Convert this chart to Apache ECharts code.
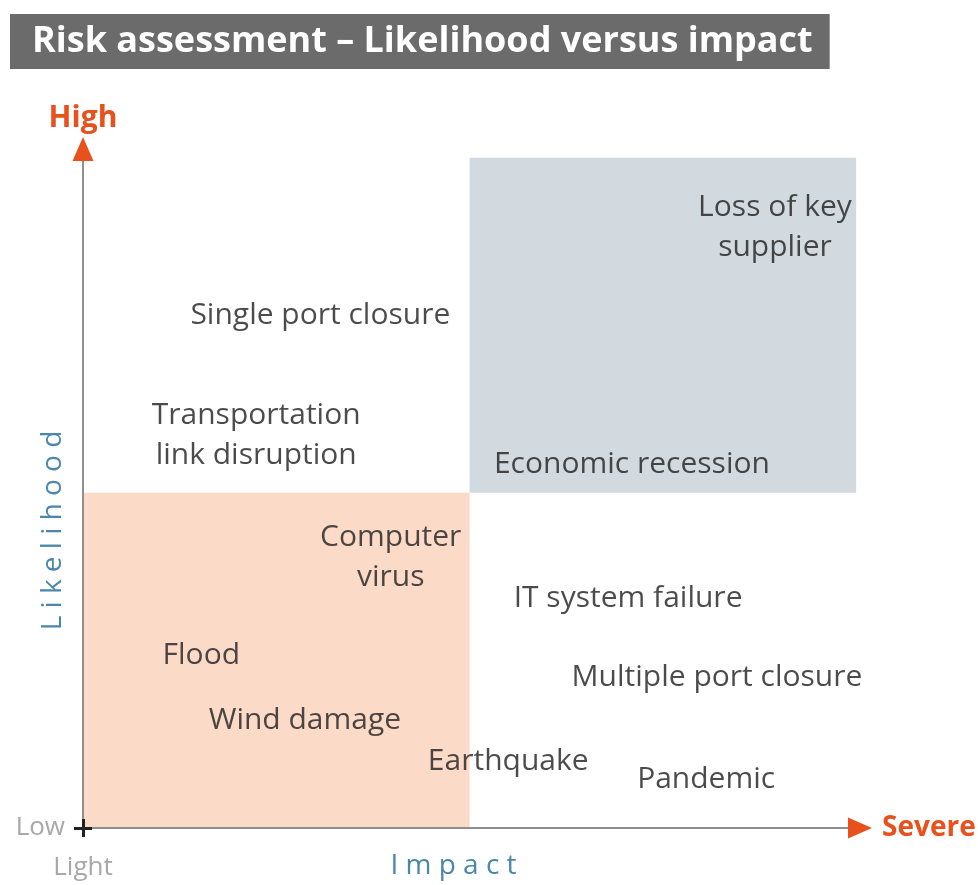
<!DOCTYPE html>
<html>
<head>
<meta charset="utf-8">
<title>Risk assessment</title>
<script src="https://cdn.jsdelivr.net/npm/echarts@6/dist/echarts.min.js"></script>
<style>
  html, body { margin: 0; padding: 0; background: #fff; }
  #chart { width: 978px; height: 885px; }
</style>
</head>
<body>
<div id="chart"></div>
<script>
// risk items: impact (x) and likelihood (y) on a 0-10 scale
const risks = [
  'Loss of key\nsupplier', 'Single port closure', 'Transportation\nlink disruption',
  'Economic recession', 'Computer\nvirus', 'IT system failure', 'Flood',
  'Multiple port closure', 'Wind damage', 'Earthquake', 'Pandemic'
];
const impact = [8.95, 3.07, 2.24, 7.10, 3.98, 7.05, 1.53, 8.20, 2.87, 5.50, 8.06];
const likelihood = [8.96, 7.64, 5.85, 5.43, 4.03, 3.42, 2.57, 2.24, 1.61, 0.99, 0.73];

// quadrant boxes [x0, y0, x1, y1]
const lowBox = [0, 0, 5, 5];
const highBox = [5, 5, 10, 10];

const FONT = "'Open Sans', sans-serif";
const ORANGE = '#e8501c';
const AXIS_GRAY = '#8e8e8e';

let myChart = echarts.init(document.getElementById('chart'));

let option = {
  animation: false,
  title: {
    text: 'Risk assessment \u2013 Likelihood versus impact',
    left: 10,
    top: 14,
    padding: [6, 17, 6, 22],
    backgroundColor: '#6b6b6b',
    textStyle: { color: '#fff', fontSize: 36, fontWeight: 'bold', fontFamily: FONT, lineHeight: 43 }
  },
  grid: { left: 83, right: 118, top: 149, bottom: 57, outerBoundsMode: 'none', containLabel: false },
  xAxis: [
    {
      type: 'value', min: 0, max: 10.05,
      name: 'I m p a c t', nameLocation: 'middle', nameGap: 24, nameMoveOverlap: false,
      nameTextStyle: { color: '#4a87ab', fontSize: 28, fontFamily: FONT, padding: [0, 36, 0, 0] },
      axisLine: { show: true, onZero: false, lineStyle: { color: AXIS_GRAY, width: 2 } },
      axisTick: { show: true, customValues: [0], length: 9, lineStyle: { color: '#222', width: 3 } },
      axisLabel: {
        customValues: [0], formatter: () => 'Light', margin: 27,
        color: '#a8a8a8', fontSize: 26, fontFamily: FONT
      },
      splitLine: { show: false }
    },
    {
      type: 'value', min: 0, max: 10.05, position: 'bottom',
      name: 'Severe', nameLocation: 'end', nameGap: 22,
      nameTextStyle: { color: ORANGE, fontSize: 28, fontWeight: 'bold', fontFamily: FONT },
      axisLine: { show: true, onZero: false, symbol: ['none', 'triangle'], symbolSize: [21, 24],
        lineStyle: { color: ORANGE, width: 0 } },
      axisTick: { show: true, inside: true, customValues: [0], length: 9, lineStyle: { color: '#222', width: 3 } },
      axisLabel: { show: false },
      splitLine: { show: false }
    }
  ],
  yAxis: [
    {
      type: 'value', min: 0, max: 10.13,
      name: 'L i k e l i h o o d', nameLocation: 'middle', nameGap: 16, nameMoveOverlap: false,
      nameTextStyle: { color: '#4a87ab', fontSize: 28, fontFamily: FONT, padding: [0, 84, 0, 0] },
      axisLine: { show: true, onZero: false, lineStyle: { color: AXIS_GRAY, width: 2 } },
      axisTick: { show: true, customValues: [0], length: 9, lineStyle: { color: '#222', width: 3 } },
      axisLabel: {
        customValues: [0], formatter: () => 'Low', margin: 18,
        color: '#a8a8a8', fontSize: 26, fontFamily: FONT
      },
      splitLine: { show: false }
    },
    {
      type: 'value', min: 0, max: 10.13, position: 'left',
      name: 'High', nameLocation: 'end', nameGap: 16,
      nameTextStyle: { color: ORANGE, fontSize: 30, fontWeight: 'bold', fontFamily: FONT },
      axisLine: { show: true, onZero: false, symbol: ['none', 'triangle'], symbolSize: [21, 24],
        lineStyle: { color: ORANGE, width: 0 } },
      axisTick: { show: true, inside: true, customValues: [0], length: 9, lineStyle: { color: '#222', width: 3 } },
      axisLabel: { show: false },
      splitLine: { show: false }
    }
  ],
  series: [
    {
      type: 'scatter',
      xAxisIndex: 0,
      yAxisIndex: 0,
      symbolSize: 1,
      itemStyle: { color: 'rgba(0,0,0,0)' },
      data: risks.map((r, i) => ({ name: r, value: [impact[i], likelihood[i]] })),
      label: {
        show: true,
        position: 'inside',
        formatter: p => p.name,
        color: '#1e1e1e',
        fontSize: 30,
        lineHeight: 40,
        fontFamily: FONT
      },
      markArea: {
        silent: true,
        z: 0,
        data: [
          [{ coord: [lowBox[0], lowBox[1]], itemStyle: { color: '#fcdac8' } }, { coord: [lowBox[2], lowBox[3]] }],
          [{ coord: [highBox[0], highBox[1]], itemStyle: { color: '#d3dadf' } }, { coord: [highBox[2], highBox[3]] }]
        ]
      }
    }
  ]
};
myChart.setOption(option);

window.addEventListener('resize', () => {
  myChart.resize();
});
</script>
</body>
</html>
